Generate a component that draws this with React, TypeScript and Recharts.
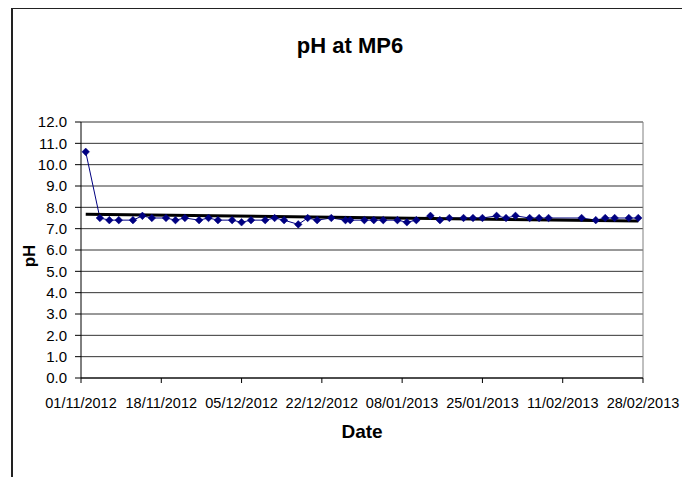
import { ComposedChart, Line, XAxis, YAxis, CartesianGrid, ReferenceLine } from "recharts";

const START = Date.UTC(2012, 10, 1);
const DAY = 86400000;

const sampleDates = [
  "02/11/2012", "05/11/2012", "07/11/2012", "09/11/2012", "12/11/2012", "14/11/2012",
  "16/11/2012", "19/11/2012", "21/11/2012", "23/11/2012", "26/11/2012", "28/11/2012",
  "30/11/2012", "03/12/2012", "05/12/2012", "07/12/2012", "10/12/2012", "12/12/2012",
  "14/12/2012", "17/12/2012", "19/12/2012", "21/12/2012", "24/12/2012", "27/12/2012",
  "28/12/2012", "31/12/2012", "02/01/2013", "04/01/2013", "07/01/2013", "09/01/2013",
  "11/01/2013", "14/01/2013", "16/01/2013", "18/01/2013", "21/01/2013", "23/01/2013",
  "25/01/2013", "28/01/2013", "30/01/2013", "01/02/2013", "04/02/2013", "06/02/2013",
  "08/02/2013", "15/02/2013", "18/02/2013", "20/02/2013", "22/02/2013", "25/02/2013",
  "27/02/2013",
];

const phValues = [
  10.6, 7.5, 7.4, 7.4, 7.4, 7.6,
  7.5, 7.5, 7.4, 7.5, 7.4, 7.5,
  7.4, 7.4, 7.3, 7.4, 7.4, 7.5,
  7.4, 7.2, 7.5, 7.4, 7.5, 7.4,
  7.4, 7.4, 7.4, 7.4, 7.4, 7.3,
  7.4, 7.6, 7.4, 7.5, 7.5, 7.5,
  7.5, 7.6, 7.5, 7.6, 7.5, 7.5,
  7.5, 7.5, 7.4, 7.5, 7.5, 7.5,
  7.5,
];

// linear trendline end points
const trendDates = ["02/11/2012", "27/02/2013"];
const trendValues = [7.68, 7.36];

const xTickLabels = [
  "01/11/2012", "18/11/2012", "05/12/2012", "22/12/2012",
  "08/01/2013", "25/01/2013", "11/02/2013", "28/02/2013",
];
const yTicks = [0, 1, 2, 3, 4, 5, 6, 7, 8, 9, 10, 11, 12];

const toDay = (s: string) => {
  const [d, m, y] = s.split("/").map(Number);
  return (Date.UTC(y, m - 1, d) - START) / DAY;
};

const phData = sampleDates.map((d, i) => ({ day: toDay(d), ph: phValues[i] }));
const trendData = trendDates.map((d, i) => ({ day: toDay(d), ph: trendValues[i] }));
const xTicks = xTickLabels.map(toDay);

const FONT = "'Liberation Sans', Arial, sans-serif";

const Diamond = (props: any) => {
  const { cx, cy } = props;
  if (cx == null || cy == null) return null;
  const r = 3.8;
  return (
    <polygon
      points={`${cx},${cy - r} ${cx + r},${cy} ${cx},${cy + r} ${cx - r},${cy}`}
      fill="#000080"
      stroke="#000080"
      strokeWidth={0.5}
    />
  );
};

const App = () => {
  return (
    <div style={{ position: "relative", width: 690, height: 477, marginLeft: -8, marginTop: -8, fontFamily: FONT, background: "#fff", overflow: "hidden" }}>
      <div style={{ position: "absolute", left: 11, top: 7, width: 671, height: 500, border: "2px solid #222" }} />
      <div style={{ position: "absolute", left: 0, top: 33, width: 700, textAlign: "center", fontWeight: "bold", fontSize: 22 }}>
        pH at MP6
      </div>
      <div style={{ position: "absolute", left: 312, top: 421, width: 100, textAlign: "center", fontWeight: "bold", fontSize: 19 }}>
        Date
      </div>
      <div style={{ position: "absolute", left: 10, top: 246, width: 40, textAlign: "center", fontWeight: "bold", fontSize: 17, transform: "rotate(-90deg)" }}>
        pH
      </div>
      <div style={{ position: "absolute", left: 0, top: 0 }}>
        <ComposedChart width={690} height={477} margin={{ top: 122, right: 47, bottom: 59, left: 0 }}>
          <CartesianGrid vertical={false} stroke="#333" strokeWidth={1} />
          <XAxis
            dataKey="day"
            type="number"
            domain={[0, 119]}
            ticks={xTicks}
            allowDataOverflow
            interval={0}
            tickFormatter={(v: number) => xTickLabels[xTicks.indexOf(v)] ?? ""}
            stroke="#000"
            tickSize={5}
            tickMargin={15}
            height={40}
            tick={{ fill: "#000", fontSize: 14.5, fontFamily: FONT }}
          />
          <YAxis
            type="number"
            domain={[0, 12]}
            ticks={yTicks}
            interval={0}
            tickFormatter={(v: number) => v.toFixed(1)}
            stroke="#000"
            width={81}
            tickSize={6}
            tickMargin={8}
            tick={{ fill: "#000", fontSize: 15, fontFamily: FONT }}
          />
          <ReferenceLine x={119} stroke="#808080" />
          <Line
            data={phData}
            dataKey="ph"
            type="linear"
            stroke="#000080"
            strokeWidth={1}
            dot={<Diamond />}
            activeDot={false}
            isAnimationActive={false}
          />
          <Line
            data={trendData}
            dataKey="ph"
            type="linear"
            stroke="#000"
            strokeWidth={3}
            dot={false}
            activeDot={false}
            isAnimationActive={false}
          />
        </ComposedChart>
      </div>
    </div>
  );
};

export default App;
